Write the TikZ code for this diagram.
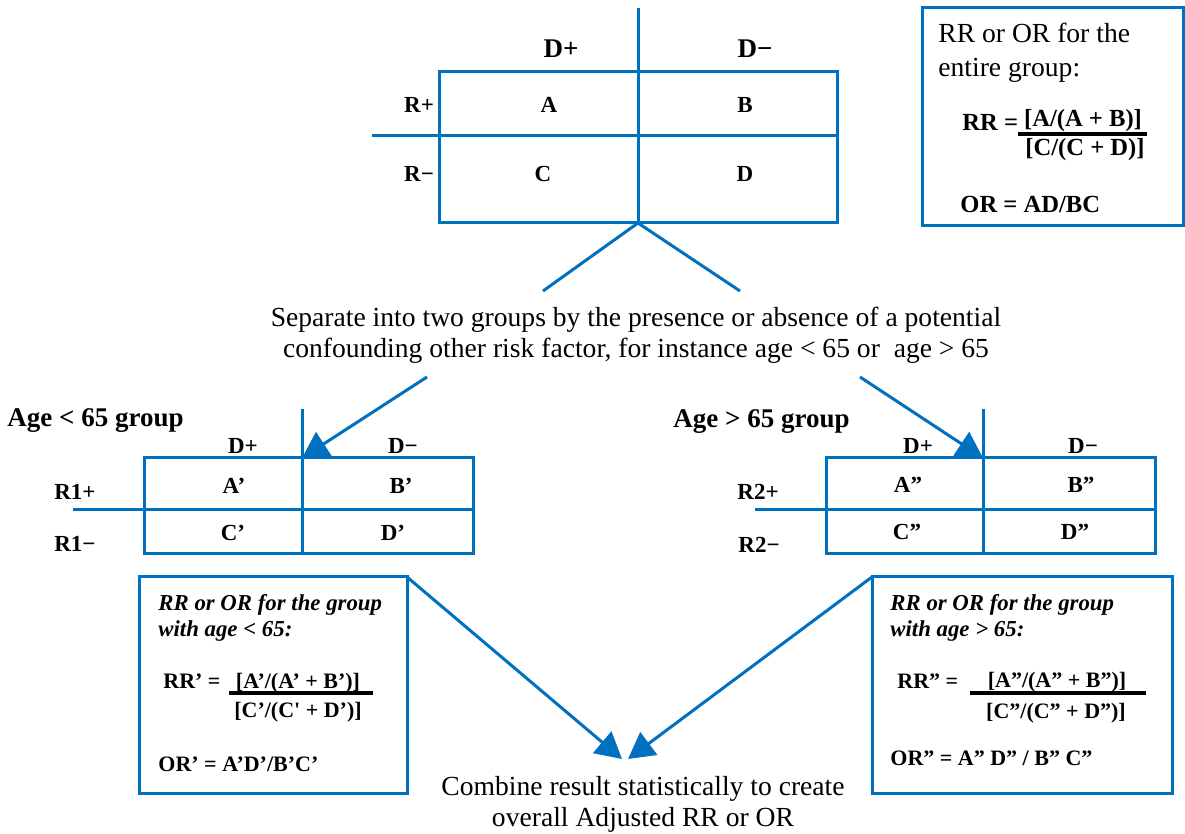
\documentclass[tikz,border=0pt]{standalone}
\usepackage{fontspec}
\setmainfont{Liberation Serif}
\usetikzlibrary{arrows.meta}
\definecolor{offblue}{RGB}{0,112,192}

\tikzset{
  rule/.style={draw=offblue, line width=1.5pt},
  bar/.style={draw=black, line width=1.8pt},
  flow/.style={rule, -{Triangle[length=13pt,width=14pt]}},
  crosstab/.style={rule, inner sep=0pt, outer sep=0pt},
  head/.style={font=\fontsize{13.5}{16}\selectfont\bfseries, inner sep=0pt},
  cell/.style={font=\fontsize{11.5}{14}\selectfont\bfseries},
  prose/.style={font=\fontsize{13.8}{15.5}\selectfont, inner sep=0pt},
  note/.style={font=\fontsize{11.4}{13}\selectfont\bfseries\itshape, inner sep=0pt},
  formula/.style={font=\fontsize{12.3}{14}\selectfont\bfseries, inner sep=0pt},
  subformula/.style={font=\fontsize{11}{13}\selectfont\bfseries, inner sep=0pt}
}

\begin{document}
\begin{tikzpicture}[x=0.5pt,y=-0.5pt]
\useasboundingbox (0,0) rectangle (1185,834);

% whole group
\node[crosstab, minimum width=199pt, minimum height=75.5pt] (whole) at (638,147.5) {};
\draw[rule] (638,8) -- (whole.south);
\draw[rule] (372,136) -- (839,136);
\node[head] (dpos) at (561,49) {D+};
\node[head] (dneg) at (755,49) {D−};
\node[cell] (rpos) at (419,105) {R+};
\node[cell] (rneg) at (419,174) {R−};
\node[cell] (ca) at (549,105) {A};
\node[cell] (cb) at (745,105) {B};
\node[cell] (cc) at (543,174) {C};
\node[cell] (cd) at (745,174) {D};

% ratios for the whole group
\node[crosstab, minimum width=130.5pt, minimum height=109pt] (wholebox) at (1052.5,117) {};
\node[prose, font=\fontsize{13.8}{17}\selectfont, align=left, anchor=north west] (wholenote) at (938,23)
  {RR or OR for the\\entire group:};
\node[formula, anchor=base west] (rr) at (962,131) {RR =};
\node[formula, anchor=base] (rrnum) at (1083,127) {[A/(A + B)]};
\draw[bar] (1018,134) -- (1147,134);
\node[formula, anchor=base] (rrden) at (1085,156) {[C/(C + D)]};
\node[formula, anchor=base west] (or) at (960,213) {OR = AD/BC};

% split
\coordinate (splitL) at (543,291);
\coordinate (splitR) at (740,291);
\draw[rule] (whole.south) -- (splitL);
\draw[rule] (whole.south) -- (splitR);
\node[prose, align=center, anchor=north] (split) at (636,307)
  {Separate into two groups by the presence or absence of a potential\\confounding other risk factor, for instance age < 65 or \ age > 65};

% age < 65
\node[head, anchor=base west] (lowname) at (7,427) {Age < 65 group};
\node[crosstab, minimum width=164.5pt, minimum height=48pt] (lowtab) at (308.5,506) {};
\draw[rule] (302,409) -- (302,554);
\draw[rule] (73,510) -- (474,510);
\node[cell] (lowdpos) at (243,446) {D+};
\node[cell] (lowdneg) at (403,446) {D−};
\node[cell] (lowrpos) at (75,492) {R1+};
\node[cell] (lowrneg) at (75,544) {R1−};
\node[cell] (lowa) at (234,486) {A’};
\node[cell] (lowb) at (401,486) {B’};
\node[cell] (lowc) at (233,533) {C’};
\node[cell] (lowd) at (393,533) {D’};

% age > 65
\node[head, anchor=base west] (highname) at (673,428) {Age > 65 group};
\node[crosstab, minimum width=164.5pt, minimum height=48pt] (hightab) at (990.5,506) {};
\draw[rule] (983,409) -- (983,554);
\draw[rule] (755,510) -- (1155,510);
\node[cell] (highdpos) at (918,446) {D+};
\node[cell] (highdneg) at (1083,446) {D−};
\node[cell] (highrpos) at (758,492) {R2+};
\node[cell] (highrneg) at (759,545) {R2−};
\node[cell] (higha) at (908,485) {A”};
\node[cell] (highb) at (1081,485) {B”};
\node[cell] (highc) at (907,532) {C”};
\node[cell] (highd) at (1075,532) {D”};

% arrows into the two groups
\coordinate (fromlow) at (427,377);
\coordinate (lowcut) at (302,458);
\coordinate (fromhigh) at (860,377);
\coordinate (highcut) at (983,458);
\draw[flow] (fromlow) -- (lowcut);
\draw[flow] (fromhigh) -- (highcut);

% ratios, age < 65
\node[crosstab, minimum width=134pt, minimum height=108pt] (lowbox) at (273,685) {};
\node[note, align=left, anchor=north west] (lownote) at (158,594)
  {RR or OR for the group\\with age < 65:};
\node[subformula, anchor=base west] (rrlow) at (163,689) {RR’ =};
\node[subformula, anchor=base] (rrlownum) at (298,688) {[A’/(A’ + B’)]};
\draw[bar] (229,693) -- (373,693);
\node[subformula, anchor=base] (rrlowden) at (298,717) {[C’/(C\textquotesingle{} + D’)]};
\node[subformula, anchor=base west] (orlow) at (158,771) {OR’ = A’D’/B’C’};

% ratios, age > 65
\node[crosstab, minimum width=150pt, minimum height=108pt] (highbox) at (1022,685) {};
\node[note, align=left, anchor=north west] (highnote) at (890,594)
  {RR or OR for the group\\with age > 65:};
\node[subformula, anchor=base west] (rrhigh) at (897,688) {RR” =};
\node[subformula, anchor=base] (rrhighnum) at (1057,687) {[A”/(A” + B”)]};
\draw[bar] (970,693) -- (1146,693);
\node[subformula, anchor=base] (rrhighden) at (1056,718) {[C”/(C” + D”)]};
\node[subformula, anchor=base west] (orhigh) at (890,765) {OR” = A” D” / B” C”};

% combine
\coordinate (joinlow) at (622,759);
\coordinate (joinhigh) at (628,759);
\draw[flow] (lowbox.north east) -- (joinlow);
\draw[flow] (highbox.north west) -- (joinhigh);
\node[prose, align=center, anchor=north] (combine) at (643,776)
  {Combine result statistically to create\\overall Adjusted RR or OR};
\end{tikzpicture}
\end{document}
